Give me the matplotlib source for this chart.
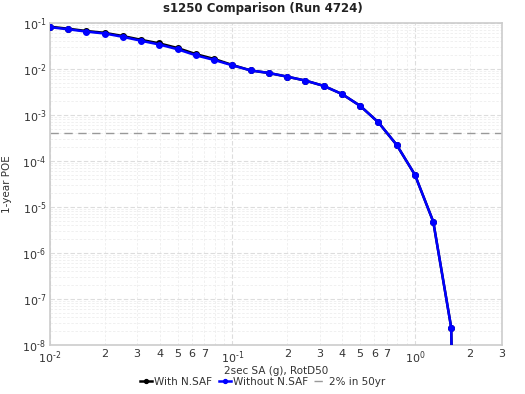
import matplotlib
matplotlib.use("Agg")
import matplotlib.pyplot as plt
from matplotlib.ticker import LogLocator, FuncFormatter, NullFormatter
import numpy as np

sa_g = [0.01, 0.0126, 0.0158, 0.02, 0.0251, 0.0316, 0.0398, 0.0501, 0.0631, 0.0794,
        0.1, 0.126, 0.158, 0.2, 0.251, 0.316, 0.398, 0.501, 0.631, 0.794,
        1.0, 1.26, 1.58, 2.0]
poe_without = [0.081, 0.073, 0.065, 0.059, 0.050, 0.041, 0.034, 0.0268, 0.0198, 0.0157,
               0.0120, 0.0093, 0.0082, 0.0068, 0.0056, 0.0043, 0.00286, 0.00158, 0.00069, 0.000224,
               5.0e-5, 4.8e-6, 2.4e-8, 1e-30]
poe_with = [0.083, 0.075, 0.067, 0.061, 0.052, 0.043, 0.036, 0.0285, 0.021, 0.0165,
            0.0122, 0.0093, 0.0082, 0.0068, 0.0056, 0.0043, 0.00286, 0.00158, 0.00069, 0.000224,
            5.0e-5, 4.8e-6, 2.4e-8, 1e-30]
poe_2in50 = 1 - 0.98 ** (1 / 50)

plt.rcParams['font.family'] = ['DejaVu Sans']
fig = plt.figure(figsize=(5.25, 3.94), dpi=100)
ax = fig.add_axes([50/525, 1-345/394, (502-50)/525, (345-23)/394])

ax.plot(sa_g, poe_with, color='black', lw=1.8, marker='o', ms=4, label='With N.SAF', zorder=3)
ax.plot(sa_g, poe_without, color='#0000ff', lw=1.8, marker='o', ms=4, label='Without N.SAF', zorder=4)
ax.axhline(poe_2in50, color='#999999', lw=1, ls=(0, (6, 4)), label='2% in 50yr', zorder=2)

ax.set_xscale('log')
ax.set_yscale('log')
ax.set_xlim(0.01, 3)
ax.set_ylim(1e-8, 1e-1)


def major_fmt(x, pos):
    e = int(round(np.log10(x)))
    s = str(e).replace('-', r'\text{-}')
    return r'$\mathregular{10^{' + s + '}}$'


def minor_fmt(x, pos):
    m = x / 10 ** np.floor(np.log10(x) + 1e-9)
    r = int(round(m))
    if 2 <= r <= 7 and abs(m - r) < 1e-6:
        return str(r)
    return ''


ax.xaxis.set_major_locator(LogLocator(base=10, numticks=10))
ax.xaxis.set_minor_locator(LogLocator(base=10, subs=np.arange(2, 10), numticks=20))
ax.xaxis.set_major_formatter(FuncFormatter(major_fmt))
ax.xaxis.set_minor_formatter(FuncFormatter(minor_fmt))
ax.yaxis.set_major_locator(LogLocator(base=10, numticks=12))
ax.yaxis.set_minor_locator(LogLocator(base=10, subs=np.arange(2, 10), numticks=20))
ax.yaxis.set_major_formatter(FuncFormatter(major_fmt))
ax.yaxis.set_minor_formatter(NullFormatter())

ax.grid(True, which='major', color='#dddddd', lw=0.8, ls=(0, (4, 2)))
ax.grid(True, which='minor', color='#eeeeee', lw=0.6, ls=(0, (3, 2)))
ax.set_axisbelow(True)

for s in ax.spines.values():
    s.set_color('#cccccc')
    s.set_linewidth(1.2)

ax.tick_params(which='both', length=0, labelsize=8, colors='#333333', pad=3)

fig.text(0.5, 1 - 8.5/394, 's1250 Comparison (Run 4724)', fontsize=8.5,
         fontweight='bold', color='#222222', ha='center', va='center')
ax.set_xlabel('2sec SA (g), RotD50', fontsize=7.5, color='#333333')
ax.xaxis.set_label_coords(0.5, -(366-345)/322, transform=ax.transAxes)
ax.set_ylabel('1-year POE', fontsize=7.5, color='#333333')
ax.yaxis.set_label_coords(-(50-12)/452, 0.5, transform=ax.transAxes)

leg = fig.legend(loc='center', bbox_to_anchor=(0.5, 1-382/394), ncol=3, frameon=False,
                 fontsize=7.5, handlelength=1.2, handletextpad=0.2, columnspacing=0.6,
                 markerscale=0.7, borderpad=0.1)
for t in leg.get_texts():
    t.set_color('#333333')

fig.savefig('out.png', dpi=100)
